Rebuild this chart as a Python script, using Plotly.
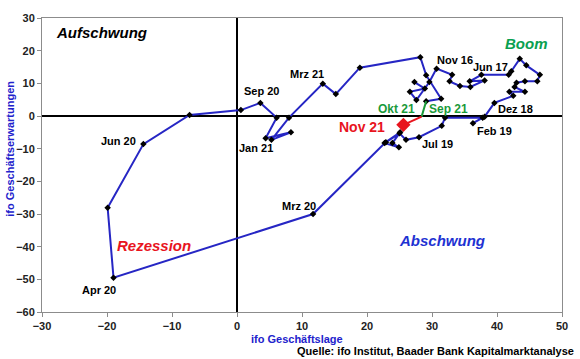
import plotly.graph_objects as go

# ifo Geschäftslage (x) and ifo Geschäftserwartungen (y), chronological path
x_lage = [27.3, 28.9, 26.6, 27.6, 29.6, 30.7, 33.1, 32.7, 34.3, 35.9,
          38.1, 35.8, 37.6, 41.8, 42.2, 43.5, 44.5, 46.6, 46.2, 44.3,
          43.0, 42.7, 44.3, 41.9, 42.5, 39.6, 38.1, 36.3, 37.8, 32.0,
          31.5, 28.0, 26.0, 25.0, 22.7, 24.9, 23.9, 25.1, 22.9, 11.7,
          -19.0, -19.9, -14.4, -7.3, 0.6, 3.6, 6.1, 4.4, 8.3, 5.3,
          8.0, 13.2, 15.2, 18.9, 28.2, 29.1, 31.4, 29.1, 28.4, 25.6]
y_erw = [10.4, 8.4, 7.4, 4.9, 10.4, 14.5, 12.6, 10.6, 9.2, 8.9,
         10.9, 10.6, 12.6, 12.6, 13.7, 17.5, 15.5, 12.6, 10.6, 10.6,
         10.2, 8.9, 7.4, 7.4, 6.2, 4.0, -0.2, -2.2, -0.5, -0.5,
         -3.0, -6.5, -7.3, -5.3, -8.3, -9.6, -8.3, -5.0, -8.0, -30.0,
         -49.5, -28.1, -8.6, 0.3, 1.8, 4.0, -0.5, -6.8, -5.0, -7.3,
         -0.5, 9.9, 6.7, 14.8, 18.0, 12.5, 5.3, 4.5, -0.2, -2.7]

# point labels: text and index into the series
label_text = ["Nov 16", "Jun 17", "Dez 18", "Feb 19", "Jul 19", "Mrz 20", "Apr 20",
              "Jun 20", "Sep 20", "Jan 21", "Mrz 21", "Sep 21", "Okt 21", "Nov 21"]
label_index = [5, 12, 25, 27, 31, 39, 40, 42, 45, 49, 51, 57, 58, 59]

# styling for labels (pixel offsets, colors, sizes)
label_style = {
    "Nov 16": (18, 9, "black", 11),
    "Jun 17": (9, 8, "black", 11),
    "Dez 18": (21, -6, "black", 11),
    "Feb 19": (22, -8, "black", 11),
    "Jul 19": (18, -7, "black", 11),
    "Mrz 20": (-14, 8, "black", 11),
    "Apr 20": (-15, -12, "black", 11),
    "Jun 20": (-25, 3, "black", 11),
    "Sep 20": (1, 12, "black", 11),
    "Jan 21": (-15, -8, "black", 11),
    "Mrz 21": (-16, 10, "black", 11),
    "Sep 21": (22, -8, "#1a9a3a", 12),
    "Okt 21": (-25, 8, "#1a9a3a", 12),
    "Nov 21": (-41, -2, "#e8141e", 14),
}

BLUE = "#2626c4"
GREEN = "#1a9a3a"
RED = "#e8141e"
FONT = "Liberation Sans, Arial, sans-serif"

n_blue = label_index[label_text.index("Sep 21")] + 1
i_okt = label_index[label_text.index("Okt 21")]
i_nov = label_index[label_text.index("Nov 21")]

fig = go.Figure()
fig.add_trace(go.Scatter(
    x=x_lage[:n_blue], y=y_erw[:n_blue], mode="lines+markers",
    line=dict(color=BLUE, width=2),
    marker=dict(symbol="diamond", size=5, color="black"),
    hoverinfo="skip", showlegend=False))
fig.add_trace(go.Scatter(
    x=x_lage[n_blue - 1:i_okt + 1], y=y_erw[n_blue - 1:i_okt + 1], mode="lines",
    line=dict(color=GREEN, width=2), hoverinfo="skip", showlegend=False))
fig.add_trace(go.Scatter(
    x=x_lage[i_okt:i_nov + 1], y=y_erw[i_okt:i_nov + 1], mode="lines",
    line=dict(color=RED, width=2), hoverinfo="skip", showlegend=False))
fig.add_trace(go.Scatter(
    x=[x_lage[i_nov]], y=[y_erw[i_nov]], mode="markers",
    marker=dict(symbol="diamond", size=11, color=RED),
    hoverinfo="skip", showlegend=False))

annotations = []
for txt, idx in zip(label_text, label_index):
    dx, dy, col, sz = label_style[txt]
    annotations.append(dict(
        x=x_lage[idx], y=y_erw[idx], xref="x", yref="y", text=txt,
        showarrow=False, xshift=dx, yshift=dy,
        font=dict(family=FONT, size=sz, color=col, weight="bold")))

# quadrant names
quadrants = [("Aufschwung", -20.8, 25.6, "black"),
             ("Boom", 44.5, 22.1, "#0aa050"),
             ("Rezession", -12.7, -39.7, RED),
             ("Abschwung", 31.5, -38.2, "#1e32d2")]
for txt, qx, qy, col in quadrants:
    annotations.append(dict(
        x=qx, y=qy, xref="x", yref="y", text=f"<i>{txt}</i>", showarrow=False,
        font=dict(family=FONT, size=15, color=col, weight="bold")))

annotations += [
    dict(x=0.49, y=-0.092, xref="paper", yref="paper", xanchor="center", yanchor="middle",
         text="ifo Geschäftslage", showarrow=False,
         font=dict(family=FONT, size=11, color="#2222cc", weight="bold")),
    dict(x=-0.0606, y=0.557, xref="paper", yref="paper", xanchor="center", yanchor="middle",
         text="ifo Geschäftserwartungen", textangle=-90, showarrow=False,
         font=dict(family=FONT, size=11, color="#2222cc", weight="bold")),
    dict(x=1.027, y=-0.132, xref="paper", yref="paper", xanchor="right", yanchor="middle",
         text="Quelle: ifo Institut, Baader Bank Kapitalmarktanalyse",
         showarrow=False, font=dict(family=FONT, size=11, color="black", weight="bold")),
]

axis_common = dict(
    showgrid=False, zeroline=True, zerolinecolor="black", zerolinewidth=2,
    showline=True, linecolor="#8c8c8c", linewidth=1, mirror=True,
    ticks="outside", ticklen=4, tickcolor="#8c8c8c",
    tickfont=dict(family=FONT, size=11, color="#222222", weight="bold"))

fig.update_layout(
    width=580, height=359,
    margin=dict(l=42, r=18, t=16, b=47),
    paper_bgcolor="white", plot_bgcolor="white",
    xaxis=dict(range=[-30, 50], dtick=10, tick0=0, **axis_common),
    yaxis=dict(range=[-60, 30], dtick=10, tick0=0, **axis_common),
    annotations=annotations)

fig.write_html("out.html", config={"displayModeBar": False},
               post_script="document.body.style.margin='0';document.body.style.padding='0';")
